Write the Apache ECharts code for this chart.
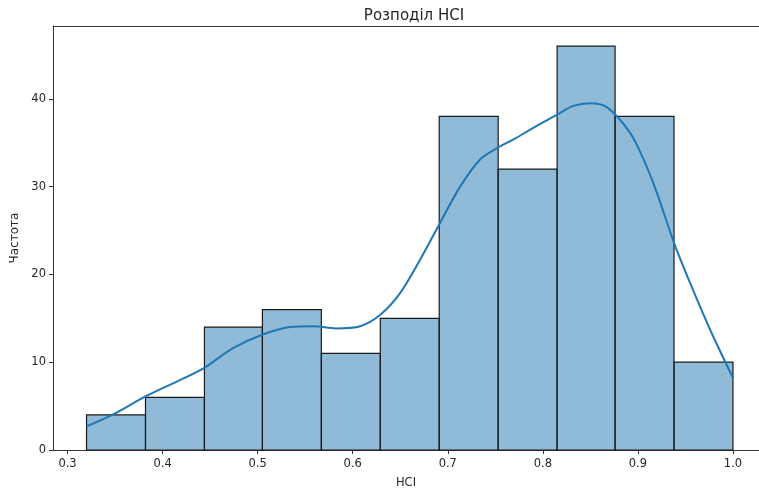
<!DOCTYPE html>
<html>
<head>
<meta charset="utf-8">
<style>
  html, body { margin: 0; padding: 0; background: #fff; }
  #chart { width: 759px; height: 494px; }
</style>
<script src="https://cdn.jsdelivr.net/npm/echarts@6/dist/echarts.min.js"></script>
</head>
<body>
<div id="chart"></div>
<script>
// Histogram bin edges (HCI) and counts per bin
const binEdges = [0.320, 0.382, 0.444, 0.505, 0.567, 0.629, 0.691, 0.753, 0.815, 0.876, 0.938, 1.000];
const binCounts = [4, 6, 14, 16, 11, 15, 38, 32, 46, 38, 10];

// Kernel density estimate, scaled to counts
const kdeX = [0.320, 0.347, 0.382, 0.415, 0.443, 0.474, 0.504, 0.534, 0.559, 0.582, 0.608, 0.629, 0.650, 0.671, 0.690, 0.713, 0.734, 0.752, 0.771, 0.790, 0.815, 0.832, 0.850, 0.868, 0.892, 0.906, 0.920, 0.938, 0.955, 0.976, 1.000];
const kdeY = [2.7, 4.0, 6.1, 7.8, 9.3, 11.6, 13.1, 14.0, 14.1, 13.85, 14.1, 15.4, 17.9, 21.7, 25.5, 30.0, 33.1, 34.4, 35.5, 36.7, 38.2, 39.2, 39.5, 39.0, 36.1, 33.1, 29.3, 23.6, 19.0, 13.7, 8.2];

// Tick labels
const xTicks = [0.3, 0.4, 0.5, 0.6, 0.7, 0.8, 0.9, 1.0];
const yTicks = [0, 10, 20, 30, 40];

const textColor = '#262626';
const lineColor = '#333';
const fontFamily = 'DejaVu Sans';
const xMin = 0.2847, xMax = 1.0274;

const bars = binCounts.map((c, i) => [binEdges[i], binEdges[i + 1], c]);
const kde = kdeX.map((x, i) => [x, kdeY[i]]);

const chart = echarts.init(document.getElementById('chart'), null, { renderer: 'canvas' });
chart.setOption({
  animation: false,
  backgroundColor: '#fff',
  title: {
    text: 'Розподіл HCI',
    left: 409, textAlign: 'center', top: 4,
    textStyle: { fontFamily, fontSize: 15, fontWeight: 'normal', color: textColor }
  },
  grid: { left: 53, right: 0, top: 26, bottom: 44 },
  xAxis: [
    {
      type: 'value', min: xMin, max: xMax,
      name: 'HCI', nameLocation: 'middle', nameGap: 27,
      nameTextStyle: { fontFamily, fontSize: 11.5, color: textColor },
      axisLine: { show: true, lineStyle: { color: lineColor, width: 1 } },
      axisTick: { show: true, customValues: xTicks, length: 4, lineStyle: { color: lineColor } },
      axisLabel: {
        customValues: xTicks, margin: 8,
        fontFamily, fontSize: 11.5, color: textColor,
        formatter: v => v.toFixed(1)
      },
      splitLine: { show: false }
    },
    {
      // top frame line
      type: 'value', position: 'top', min: xMin, max: xMax,
      axisLine: { show: true, lineStyle: { color: lineColor, width: 1 } },
      axisTick: { show: false }, axisLabel: { show: false }, splitLine: { show: false }
    }
  ],
  yAxis: {
    type: 'value', min: 0, max: 48.3,
    name: 'Частота', nameLocation: 'middle', nameGap: 32, nameRotate: 90,
    nameTextStyle: { fontFamily, fontSize: 12, color: textColor },
    axisLine: { show: true, lineStyle: { color: lineColor, width: 1 } },
    axisTick: { show: true, customValues: yTicks, length: 4, lineStyle: { color: lineColor } },
    axisLabel: { customValues: yTicks, margin: 7, fontFamily, fontSize: 11.5, color: textColor },
    splitLine: { show: false }
  },
  series: [
    {
      type: 'custom',
      data: bars,
      encode: { x: [0, 1], y: 2 },
      renderItem: (params, api) => {
        const p0 = api.coord([api.value(0), 0]);
        const p1 = api.coord([api.value(1), api.value(2)]);
        return {
          type: 'rect',
          shape: { x: p0[0], y: p1[1], width: p1[0] - p0[0], height: p0[1] - p1[1] },
          style: { fill: 'rgba(31,119,180,0.5)', stroke: '#1a1a1a', lineWidth: 1.2 }
        };
      },
      z: 2
    },
    {
      type: 'line',
      data: kde,
      smooth: 0.3,
      symbol: 'none',
      lineStyle: { color: '#1f77b4', width: 2 },
      z: 3
    }
  ]
});
</script>
</body>
</html>
